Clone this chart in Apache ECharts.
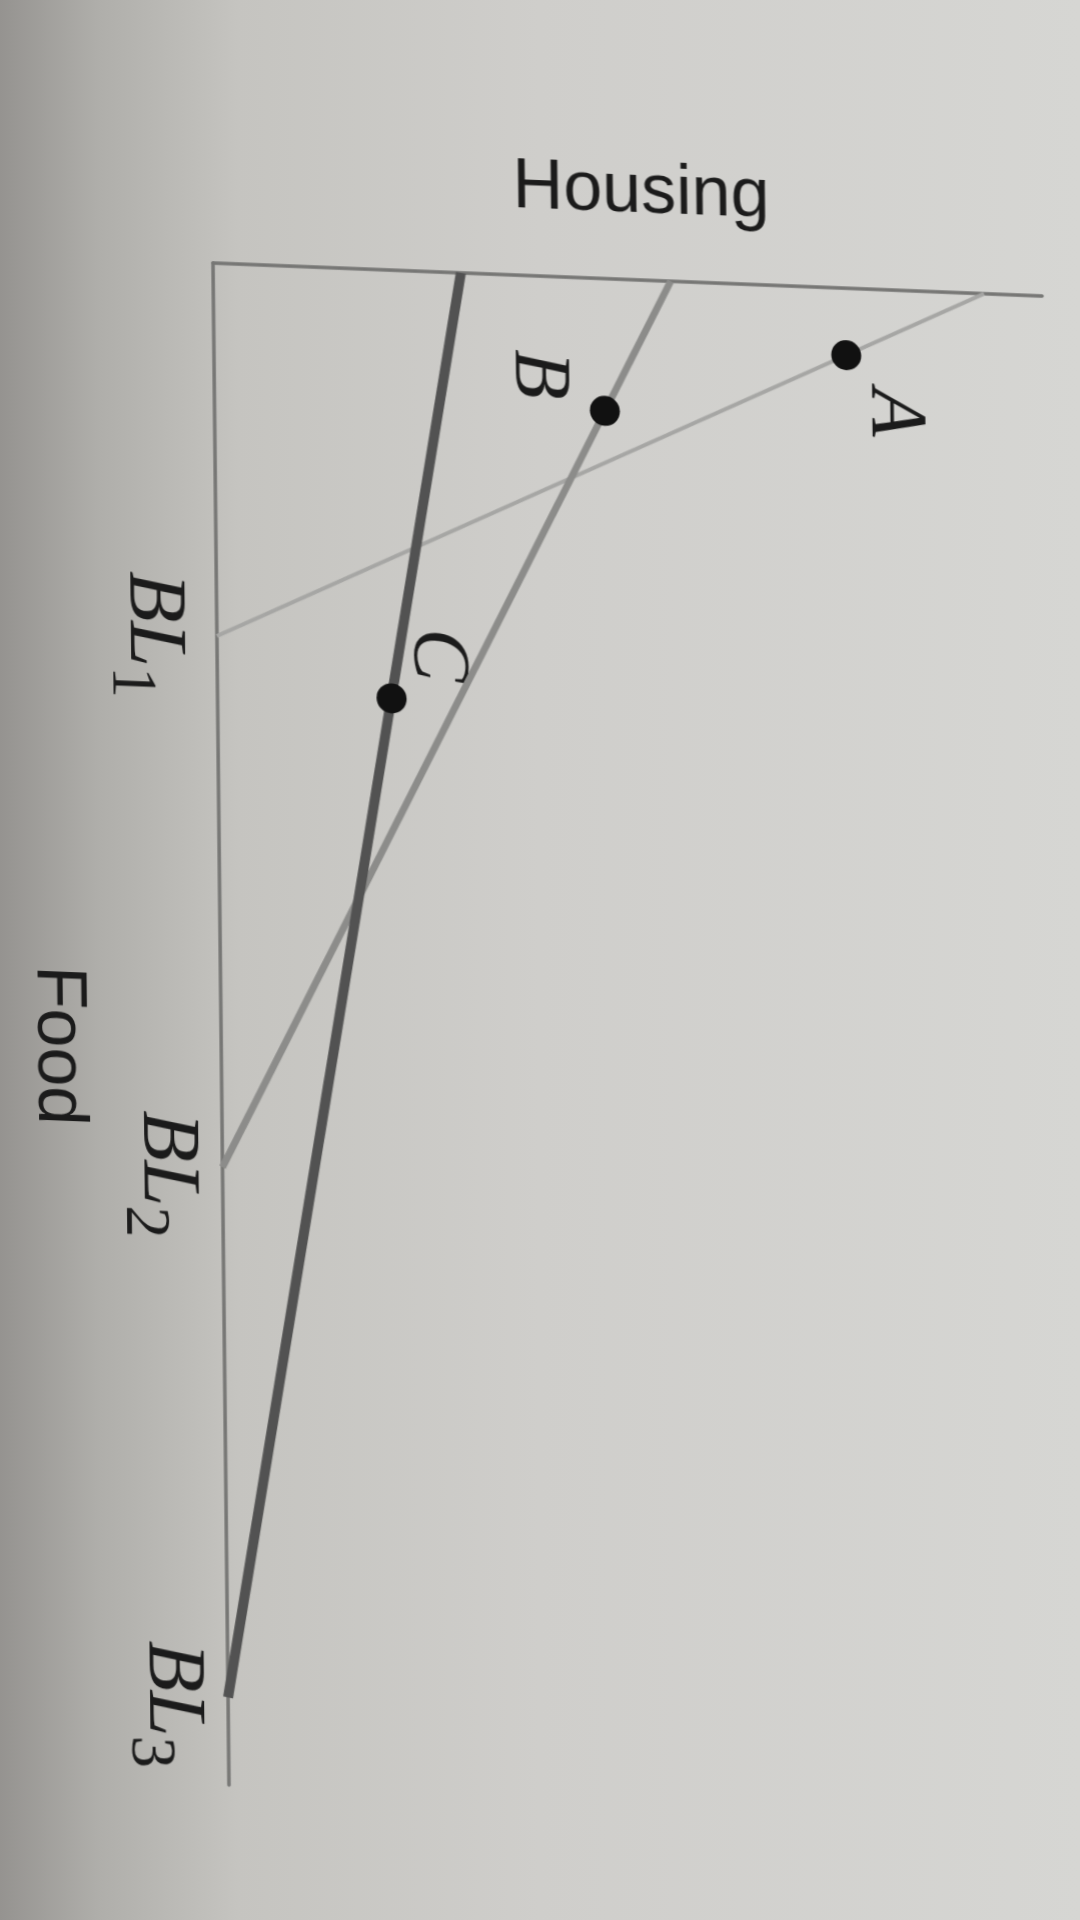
<!DOCTYPE html>
<html>
<head>
<meta charset="utf-8">
<script src="https://cdn.jsdelivr.net/npm/echarts@6/dist/echarts.min.js"></script>
<style>
html,body{margin:0;padding:0;overflow:hidden;}
body{
  width:1080px;height:1920px;
  background: linear-gradient(to right, #959390 0%, #afaeaa 9%, #c5c4c0 22%, #cfcecb 50%, #d6d6d3 100%);
}
#c{
  width:1080px;height:1920px;
  /* photo perspective: slight shear of the printed figure */
  transform-origin: 213px 263px;
  transform: matrix(1, 0.0398, 0.0105, 1, 0, 0);
}
</style>
</head>
<body>
<div id="c"></div>
<script>
// Budget lines: intercepts on Housing axis (horizontal) and Food axis (vertical, downward)
const budgetLines = ['BL1', 'BL2', 'BL3'];
const housingIntercepts = [93.0, 55.2, 29.9];
const foodIntercepts = [45.1, 109.3, 173.4];
// Consumption points
const pointNames = ['A', 'B', 'C'];
const pointHousing = [76.3, 47.1, 21.0];
const pointFood = [8.1, 16.0, 51.8];
// Axis titles
const axisTitles = { housing: 'Housing', food: 'Food' };

const lineColors = ['#a6a6a4', '#8c8c8a', '#525252'];
const lineWidths = [4, 7, 10];

const chart = echarts.init(document.getElementById('c'), null, { renderer: 'canvas' });

const series = budgetLines.map((name, i) => ({
  name: name,
  type: 'line',
  data: [[housingIntercepts[i], 0], [0, foodIntercepts[i]]],
  symbol: 'none',
  lineStyle: { color: lineColors[i], width: lineWidths[i] },
  z: 3 + i,
  silent: true
}));
series.push({
  name: 'points',
  type: 'scatter',
  data: pointNames.map((n, i) => ({ name: n, value: [pointHousing[i], pointFood[i]] })),
  symbol: 'circle',
  symbolSize: 30,
  itemStyle: { color: '#111111', opacity: 1 },
  z: 10,
  silent: true
});

const axisStyle = { show: true, onZero: false, lineStyle: { color: '#767674', width: 3.5 } };

const option = {
  backgroundColor: 'transparent',
  animation: false,
  grid: { left: 213, top: 263, width: 829, height: 1522, containLabel: false },
  xAxis: {
    type: 'value', position: 'top', min: 0, max: 100,
    axisLine: axisStyle, axisTick: { show: false }, axisLabel: { show: false }, splitLine: { show: false }
  },
  yAxis: {
    type: 'value', inverse: true, min: 0, max: 184,
    axisLine: axisStyle, axisTick: { show: false }, axisLabel: { show: false }, splitLine: { show: false }
  },
  series: series
};
chart.setOption(option);

const pix = (h, f) => chart.convertToPixel({ gridIndex: 0 }, [h, f]);
const rot = -Math.PI / 2;
const graphics = [];
const ink = '#1b1b1b';

graphics.push({
  type: 'text', x: 642, y: 176,
  style: { text: axisTitles.housing, font: '70px "Liberation Sans", Arial, sans-serif', fill: ink, align: 'center', verticalAlign: 'middle' }
});
graphics.push({
  type: 'text', x: 49, y: 1052, rotation: rot,
  style: { text: axisTitles.food, font: '70px "Liberation Sans", Arial, sans-serif', fill: ink, align: 'center', verticalAlign: 'middle' }
});

const blOffsets = [[-64, 2], [-56, 10], [-56, 10]];
budgetLines.forEach((name, i) => {
  const p = pix(0, foodIntercepts[i]);
  graphics.push({
    type: 'text', x: p[0] + blOffsets[i][0], y: p[1] + blOffsets[i][1], rotation: rot,
    style: {
      text: '{m|' + name.slice(0, 2) + '}{s|' + name.slice(2) + '}',
      align: 'center', verticalAlign: 'middle',
      rich: {
        m: { fontFamily: '"Liberation Serif", "Times New Roman", serif', fontStyle: 'italic', fontSize: 82, lineHeight: 110, verticalAlign: 'middle', fill: ink, color: ink },
        s: { fontFamily: '"Liberation Serif", "Times New Roman", serif', fontSize: 64, lineHeight: 110, verticalAlign: 'bottom', fill: ink, color: ink }
      }
    }
  });
});

const ptOffsets = [[47, 56], [-67, -34], [45, -45]];
pointNames.forEach((n, i) => {
  const p = pix(pointHousing[i], pointFood[i]);
  graphics.push({
    type: 'text', x: p[0] + ptOffsets[i][0], y: p[1] + ptOffsets[i][1], rotation: rot,
    style: { text: n, font: 'italic 80px "Liberation Serif", "Times New Roman", serif', fill: ink, align: 'center', verticalAlign: 'middle' }
  });
});

chart.setOption({ graphic: graphics });
</script>
</body>
</html>
